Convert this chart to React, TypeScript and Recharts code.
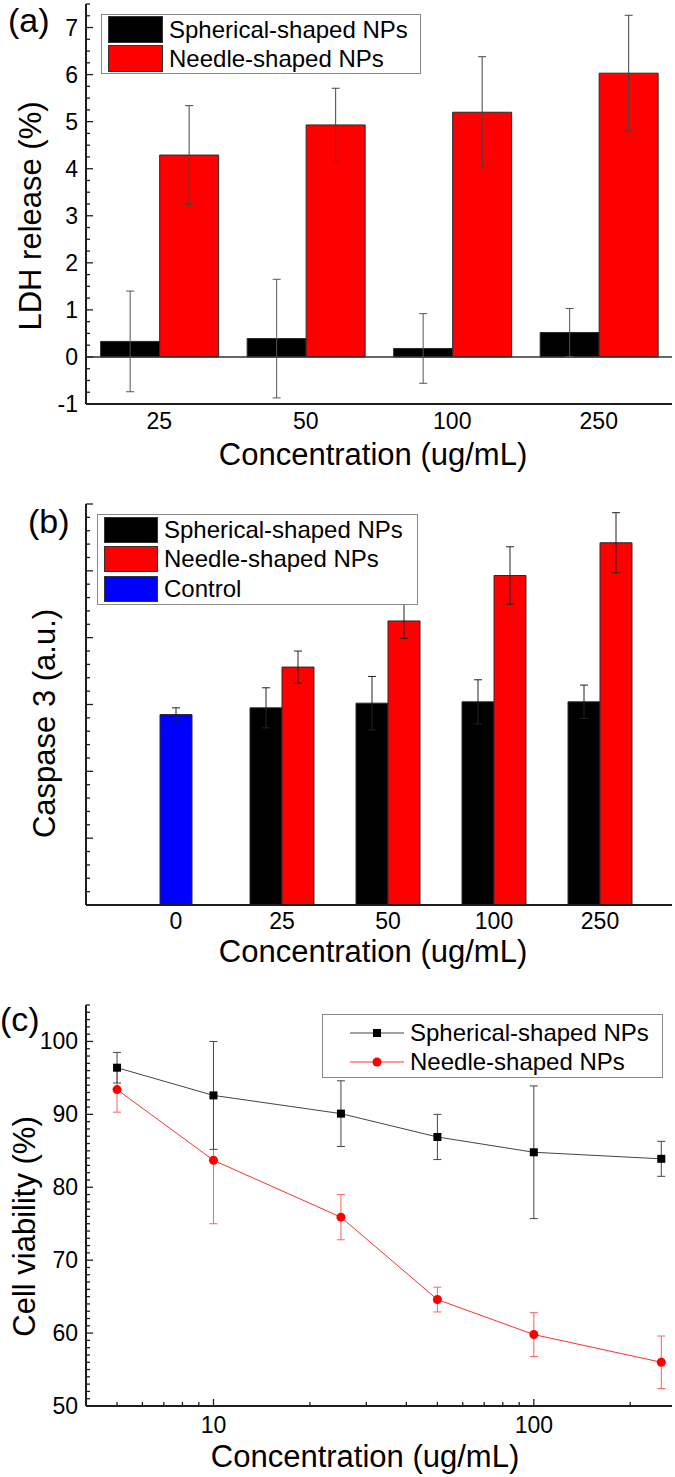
import React from "react";
import {
  ComposedChart,
  Bar,
  Line,
  XAxis,
  YAxis,
  ErrorBar,
  ReferenceLine,
  Legend,
} from "recharts";

const FONT = "'Liberation Sans', Arial, Helvetica, sans-serif";
const INK = "#1e1e1e";
const TICK_FS = 23;
const TITLE_FS = 31;

// (a) LDH release
const ldhConc = ["25", "50", "100", "250"];
const ldhSpherical = [0.33, 0.39, 0.18, 0.52];
const ldhSphericalErr = [1.07, 1.26, 0.74, 0.51];
const ldhNeedle = [4.29, 4.93, 5.2, 6.03];
const ldhNeedleErr = [1.05, 0.78, 1.18, 1.23];

// (b) Caspase 3
const caspConc = ["0", "25", "50", "100", "250"];
const caspControl = [2.85, null, null, null, null];
const caspControlErr = [0.1, null, null, null, null];
const caspSpherical = [null, 2.95, 3.02, 3.04, 3.04];
const caspSphericalErr = [null, 0.3, 0.4, 0.33, 0.25];
const caspNeedle = [null, 3.56, 4.25, 4.93, 5.42];
const caspNeedleErr = [null, 0.24, 0.26, 0.43, 0.45];

// (c) cell viability
const viabConc = [5, 10, 25, 50, 100, 250];
const viabSpherical = [96.4, 92.6, 90.1, 86.9, 84.8, 83.9];
const viabSphericalErr = [2.1, 7.4, 4.5, 3.1, 9.1, 2.4];
const viabNeedle = [93.4, 83.7, 75.9, 64.6, 59.8, 56.0];
const viabNeedleErr = [3.1, 8.7, 3.1, 1.7, 3.0, 3.6];
const viabXTicks = [4, 5, 6, 7, 8, 9, 10, 20, 30, 40, 50, 60, 70, 80, 90, 100, 200];
const viabXMajor = [10, 100];

const steps = (from: number, to: number, step: number) => {
  const out: number[] = [];
  for (let v = from; v <= to + 1e-9; v += step) out.push(Math.round(v * 1000) / 1000);
  return out;
};
const ldhTicks = steps(-1, 7.5, 0.25);
const caspTicks = steps(0, 6, 0.2);
const viabYTicks = steps(50, 105, 1);

const ldhData = ldhConc.map((conc, i) => ({
  conc,
  spherical: ldhSpherical[i],
  sphericalErr: ldhSphericalErr[i],
  needle: ldhNeedle[i],
  needleErr: ldhNeedleErr[i],
}));

const caspData = caspConc.map((conc, i) => ({
  conc,
  control: caspControl[i],
  controlErr: caspControlErr[i],
  spherical: caspSpherical[i],
  sphericalErr: caspSphericalErr[i],
  needle: caspNeedle[i],
  needleErr: caspNeedleErr[i],
}));

const viabData = viabConc.map((conc, i) => ({
  conc,
  spherical: viabSpherical[i],
  sphericalErr: viabSphericalErr[i],
  needle: viabNeedle[i],
  needleErr: viabNeedleErr[i],
}));

const isMajor = (v: number, every: number) => Math.abs(v / every - Math.round(v / every)) < 1e-6;

// inward tick marks, label only on the left side
const yTick = (every: number, side: "left" | "right", labels: boolean) => (props: any) => {
  const { x, y, payload } = props;
  const major = isMajor(payload.value, every);
  const dir = side === "left" ? 1 : -1;
  return (
    <g>
      <line x1={x} x2={x + dir * (major ? 7 : 4)} y1={y} y2={y} stroke={INK} strokeWidth={1.3} />
      {labels && major && (
        <text x={x - 8} y={y} textAnchor="end" dominantBaseline="central" fontSize={TICK_FS} fontFamily={FONT} fill="#000">
          {payload.value}
        </text>
      )}
    </g>
  );
};

const logTick = (side: "bottom" | "top") => (props: any) => {
  const { x, y, payload } = props;
  const major = viabXMajor.includes(payload.value);
  const dir = side === "bottom" ? -1 : 1;
  return (
    <g>
      <line x1={x} x2={x} y1={y} y2={y + dir * (major ? 7 : 4)} stroke={INK} strokeWidth={1.3} />
      {side === "bottom" && major && (
        <text x={x} y={y + 27} textAnchor="middle" fontSize={TICK_FS} fontFamily={FONT} fill="#000">
          {payload.value}
        </text>
      )}
    </g>
  );
};

const catTick = (dy: number) => (props: any) => (
  <text x={props.x} y={props.y + dy} textAnchor="middle" fontSize={TICK_FS} fontFamily={FONT} fill="#000">
    {props.payload.value}
  </text>
);

const xTitle = (text: string, dx: number, dy: number) => (props: any) => {
  const vb = props.viewBox;
  return (
    <text x={vb.x + vb.width / 2 + dx} y={vb.y + dy} textAnchor="middle" fontSize={TITLE_FS} fontFamily={FONT} fill="#000">
      {text}
    </text>
  );
};

const yTitle = (text: string, baseX: number, dy: number) => (props: any) => {
  const vb = props.viewBox;
  const cx = vb.x + baseX;
  const cy = vb.y + vb.height / 2 + dy;
  return (
    <text x={cx} y={cy} transform={`rotate(-90 ${cx} ${cy})`} textAnchor="middle" fontSize={TITLE_FS} fontFamily={FONT} fill="#000">
      {text}
    </text>
  );
};

const SquareDot = (props: any) => {
  const { cx, cy } = props;
  if (cx == null || cy == null) return null;
  return <rect x={cx - 4} y={cy - 4} width={8} height={8} fill="#000" />;
};

interface SwatchItem {
  name: string;
  color: string;
}

const SwatchLegend = ({ items, width, rowH, swW, swH }: { items: SwatchItem[]; width: number; rowH: number; swW: number; swH: number }) => (
  <div
    style={{
      width,
      boxSizing: "border-box",
      border: "1px solid #8a8a8a",
      background: "#fff",
      paddingLeft: 6,
      fontFamily: FONT,
      fontSize: 24,
      color: "#000",
    }}
  >
    {items.map((it) => (
      <div key={it.name} style={{ display: "flex", alignItems: "center", height: rowH }}>
        <span style={{ display: "inline-block", width: swW, height: swH, background: it.color, border: "1px solid #333", boxSizing: "border-box" }} />
        <span style={{ marginLeft: 6, whiteSpace: "nowrap" }}>{it.name}</span>
      </div>
    ))}
  </div>
);

const LineLegend = () => (
  <div
    style={{
      width: 341,
      boxSizing: "border-box",
      border: "1px solid #8a8a8a",
      background: "#fff",
      padding: "3px 0 1px 27px",
      fontFamily: FONT,
      fontSize: 24,
      color: "#000",
    }}
  >
    {[
      { name: "Spherical-shaped NPs", color: "#444", marker: "square" },
      { name: "Needle-shaped NPs", color: "#ff3030", marker: "circle" },
    ].map((it) => (
      <div key={it.name} style={{ display: "flex", alignItems: "center", height: 29 }}>
        <svg width={54} height={12}>
          <line x1={0} x2={54} y1={6} y2={6} stroke={it.color} strokeWidth={1} />
          {it.marker === "square" ? <rect x={23} y={2} width={8} height={8} fill="#000" /> : <circle cx={27} cy={6} r={4.5} fill="#ff0000" />}
        </svg>
        <span style={{ marginLeft: 6, whiteSpace: "nowrap" }}>{it.name}</span>
      </div>
    ))}
  </div>
);

const frameLine = { stroke: INK, strokeWidth: 2 };
const panelLabel = (text: string, left: number, top: number) => (
  <div style={{ position: "absolute", left, top, fontFamily: FONT, fontSize: 34, lineHeight: "34px", color: "#000" }}>{text}</div>
);

export default function App() {
  return (
    <div style={{ position: "absolute", left: 0, top: 0, width: 675, height: 1477, background: "#fff" }}>
      {/* (a) LDH release */}
      <div style={{ position: "absolute", left: 0, top: 0 }}>
        <ComposedChart width={675} height={480} data={ldhData} margin={{ top: 4, right: 3, bottom: 10, left: 0 }} barCategoryGap="10%" barGap={0}>
          <XAxis dataKey="conc" height={66} axisLine={frameLine} tickLine={false} tickSize={0} tickMargin={0} interval={0} tick={catTick(25)} label={xTitle("Concentration (ug/mL)", -6, 61)} />
          <XAxis xAxisId="top" dataKey="conc" orientation="top" height={0} axisLine={frameLine} tick={false} tickLine={false} />
          <YAxis yAxisId="l" width={86} type="number" domain={[-1, 7.5]} allowDataOverflow ticks={ldhTicks} interval={0} axisLine={frameLine} tickLine={false} tickSize={0} tickMargin={0} tick={yTick(1, "left", true)} label={yTitle("LDH release (%)", 41, 12)} />
          <YAxis yAxisId="r" orientation="right" width={0} type="number" domain={[-1, 7.5]} allowDataOverflow ticks={ldhTicks} interval={0} axisLine={frameLine} tickLine={false} tickSize={0} tickMargin={0} tick={yTick(1, "right", false)} />
          <ReferenceLine yAxisId="l" y={0} stroke="#333" strokeWidth={1.5} />
          <Bar yAxisId="l" dataKey="spherical" fill="#000" stroke="#2a2a2a" strokeWidth={1} isAnimationActive={false}>
            <ErrorBar dataKey="sphericalErr" width={4} stroke="#555" strokeWidth={1} />
          </Bar>
          <Bar yAxisId="l" dataKey="needle" fill="#ff0000" stroke="#2a2a2a" strokeWidth={1} isAnimationActive={false}>
            <ErrorBar dataKey="needleErr" width={4} stroke="#444" strokeWidth={1} />
          </Bar>
          <Legend
            layout="vertical"
            align="center"
            verticalAlign="middle"
            wrapperStyle={{ left: 101, top: 14, width: 320 }}
            content={() => (
              <SwatchLegend
                width={320}
                rowH={29}
                swW={55}
                swH={27}
                items={[
                  { name: "Spherical-shaped NPs", color: "#000" },
                  { name: "Needle-shaped NPs", color: "#ff0000" },
                ]}
              />
            )}
          />
        </ComposedChart>
      </div>
      {panelLabel("(a)", 8, 3)}

      {/* (b) Caspase 3 */}
      <div style={{ position: "absolute", left: 0, top: 470 }}>
        <ComposedChart width={675} height={501} data={caspData} margin={{ top: 34, right: 3, bottom: 0, left: 0 }} barGap={0}>
          <XAxis dataKey="conc" height={66} padding={{ left: 37, right: 19 }} axisLine={frameLine} tickLine={false} tickSize={0} tickMargin={0} interval={0} tick={catTick(24)} label={xTitle("Concentration (ug/mL)", -6, 57)} />
          <XAxis xAxisId="ctrl" dataKey="conc" hide padding={{ left: 37, right: 19 }} />
          <XAxis xAxisId="top" dataKey="conc" orientation="top" height={0} axisLine={frameLine} tick={false} tickLine={false} />
          <YAxis yAxisId="l" width={86} type="number" domain={[0, 6]} allowDataOverflow ticks={caspTicks} interval={0} axisLine={frameLine} tickLine={false} tickSize={0} tickMargin={0} tick={yTick(1, "left", false)} label={yTitle("Caspase 3 (a.u.)", 55, 19)} />
          <YAxis yAxisId="r" orientation="right" width={0} type="number" domain={[0, 6]} allowDataOverflow ticks={caspTicks} interval={0} axisLine={frameLine} tickLine={false} tickSize={0} tickMargin={0} tick={yTick(1, "right", false)} />
          <Bar yAxisId="l" xAxisId="ctrl" dataKey="control" barSize={32} fill="#0000ff" stroke="#2a2a2a" strokeWidth={1} isAnimationActive={false}>
            <ErrorBar dataKey="controlErr" width={4} stroke="#222" strokeWidth={1} />
          </Bar>
          <Bar yAxisId="l" dataKey="spherical" barSize={32} fill="#000" stroke="#2a2a2a" strokeWidth={1} isAnimationActive={false}>
            <ErrorBar dataKey="sphericalErr" width={4} stroke="#222" strokeWidth={1} />
          </Bar>
          <Bar yAxisId="l" dataKey="needle" barSize={32} fill="#ff0000" stroke="#2a2a2a" strokeWidth={1} isAnimationActive={false}>
            <ErrorBar dataKey="needleErr" width={4} stroke="#222" strokeWidth={1} />
          </Bar>
          <Legend
            layout="vertical"
            align="center"
            verticalAlign="middle"
            wrapperStyle={{ left: 97, top: 44, width: 321 }}
            content={() => (
              <SwatchLegend
                width={321}
                rowH={29.5}
                swW={54}
                swH={26}
                items={[
                  { name: "Spherical-shaped NPs", color: "#000" },
                  { name: "Needle-shaped NPs", color: "#ff0000" },
                  { name: "Control", color: "#0000ff" },
                ]}
              />
            )}
          />
        </ComposedChart>
      </div>
      {panelLabel("(b)", 28, 504)}

      {/* (c) Cell viability */}
      <div style={{ position: "absolute", left: 0, top: 975 }}>
        <ComposedChart width={675} height={502} data={viabData} margin={{ top: 30, right: 3, bottom: 0, left: 0 }}>
          <XAxis dataKey="conc" type="number" scale="log" domain={[4, 270]} allowDataOverflow ticks={viabXTicks} interval={0} height={71} axisLine={frameLine} tickLine={false} tickSize={0} tickMargin={0} tick={logTick("bottom")} label={xTitle("Concentration (ug/mL)", -14, 61)} />
          <XAxis xAxisId="top" dataKey="conc" type="number" scale="log" domain={[4, 270]} allowDataOverflow ticks={viabXTicks} interval={0} orientation="top" height={0} axisLine={frameLine} tickLine={false} tickSize={0} tickMargin={0} tick={logTick("top")} />
          <YAxis yAxisId="l" width={86} type="number" domain={[50, 105]} allowDataOverflow ticks={viabYTicks} interval={0} axisLine={frameLine} tickLine={false} tickSize={0} tickMargin={0} tick={yTick(10, "left", true)} label={yTitle("Cell viability (%)", 35, 21)} />
          <YAxis yAxisId="r" orientation="right" width={0} type="number" domain={[50, 105]} allowDataOverflow ticks={viabYTicks} interval={0} axisLine={frameLine} tickLine={false} tickSize={0} tickMargin={0} tick={yTick(10, "right", false)} />
          <Line yAxisId="l" type="linear" dataKey="needle" stroke="#ff3030" strokeWidth={1} dot={{ r: 4.5, fill: "#ff0000", stroke: "#ff0000", strokeWidth: 0 }} activeDot={false} isAnimationActive={false}>
            <ErrorBar dataKey="needleErr" width={4} stroke="#ff6060" strokeWidth={1} />
          </Line>
          <Line yAxisId="l" type="linear" dataKey="spherical" stroke="#444" strokeWidth={1} dot={<SquareDot />} activeDot={false} isAnimationActive={false}>
            <ErrorBar dataKey="sphericalErr" width={4} stroke="#444" strokeWidth={1} />
          </Line>
          <Legend layout="vertical" align="center" verticalAlign="middle" wrapperStyle={{ left: 322, top: 39, width: 341 }} content={() => <LineLegend />} />
        </ComposedChart>
      </div>
      {panelLabel("(c)", 0, 1002)}
    </div>
  );
}
